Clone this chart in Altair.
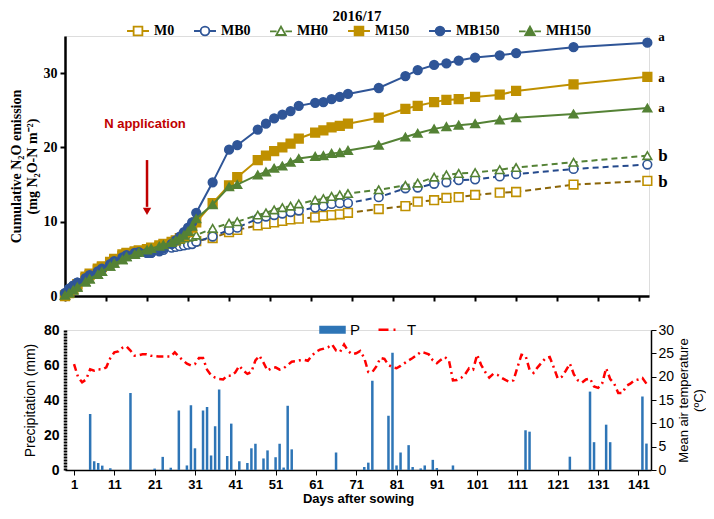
import altair as alt
import pandas as pd

# ---------------- data: cumulative N2O (top panel) ----------------
SERIES = ["M0", "MB0", "MH0", "M150", "MB150", "MH150"]
DAYS = [0, 1, 2, 3, 5, 6, 8, 9, 11, 12, 14, 15, 17, 18, 20, 21, 23, 24, 26, 27, 28, 29, 30, 31,
        32, 36, 40, 42, 47, 49, 51, 53, 55, 57, 61, 63, 65, 67, 69, 76.5, 83, 86, 90, 93, 96,
        100, 106, 110, 124, 142]
M0 = [0.0, 0.4, 0.9, 1.4, 2.4, 2.8, 3.5, 3.9, 4.5, 4.9, 5.4, 5.7, 5.9, 6.1, 6.3, 6.4, 6.6, 6.8, 7.0, 7.1, 7.2, 7.2, 7.3, 7.3,
      7.4, 7.8, 8.6, 8.9, 9.5, 9.7, 9.9, 10.1, 10.3, 10.4, 10.6, 10.8, 10.9, 11.0, 11.2, 11.7, 12.1, 12.7, 12.9, 13.2, 13.3,
      13.6, 13.9, 14.0, 15.0, 15.5]
MB0 = [0.4, 1.0, 1.4, 1.8, 2.4, 2.8, 3.3, 3.7, 4.3, 4.7, 5.2, 5.5, 5.8, 5.9, 5.8, 5.8, 6.0, 6.2, 6.5, 6.6, 6.7, 6.8, 6.9, 7.0,
       7.3, 8.0, 8.9, 9.2, 10.4, 10.7, 10.9, 11.1, 11.3, 11.5, 11.9, 12.1, 12.4, 12.5, 12.5, 13.3, 14.5, 14.6, 15.1, 15.3, 15.6,
       15.7, 16.1, 16.4, 17.1, 17.7]
MH0 = [0.1, 0.4, 0.8, 1.2, 1.9, 2.3, 2.9, 3.3, 4.0, 4.4, 4.9, 5.3, 5.6, 5.9, 6.2, 6.4, 6.7, 6.9, 7.2, 7.4, 7.6, 7.8, 7.9, 8.0,
       8.2, 9.1, 9.8, 10.0, 10.9, 11.2, 11.6, 11.9, 12.1, 12.4, 12.9, 13.1, 13.4, 13.6, 13.8, 14.3, 14.9, 15.2, 16.0, 16.3, 16.5,
       16.6, 17.0, 17.3, 18.0, 18.9]
M150 = [0.1, 0.5, 1.0, 1.6, 2.6, 3.0, 3.7, 4.0, 4.6, 5.0, 5.6, 5.8, 6.0, 6.1, 6.3, 6.5, 6.8, 7.0, 7.3, 7.5, 7.8, 8.1, 8.6, 9.2,
        9.9, 12.5, 14.9, 16.0, 18.3, 18.9, 19.5, 20.0, 20.5, 21.2, 22.0, 22.3, 22.7, 22.9, 23.2, 24.0, 25.2, 25.6, 26.1, 26.4, 26.5,
        26.8, 27.1, 27.6, 28.5, 29.5]
MB150 = [0.4, 1.0, 1.4, 1.8, 2.4, 2.8, 3.3, 3.7, 4.3, 4.7, 5.2, 5.5, 5.8, 5.9, 5.8, 5.8, 6.1, 6.4, 7.0, 7.5, 8.0, 8.6, 9.2, 9.9,
         11.2, 15.3, 19.7, 20.3, 22.4, 23.2, 23.9, 24.4, 24.9, 25.6, 26.0, 26.1, 26.5, 26.8, 27.2, 28.0, 29.6, 30.4, 31.1, 31.3, 31.7,
         32.1, 32.4, 32.7, 33.5, 34.1]
MH150 = [0.1, 0.4, 0.8, 1.2, 1.9, 2.3, 2.9, 3.3, 4.0, 4.4, 4.9, 5.3, 5.6, 5.9, 6.2, 6.4, 6.7, 6.9, 7.2, 7.5, 7.8, 8.2, 8.7, 9.4,
         10.4, 12.3, 14.7, 15.0, 16.3, 16.7, 17.2, 17.5, 18.0, 18.5, 18.8, 18.9, 19.2, 19.3, 19.6, 20.3, 21.4, 21.9, 22.5, 22.8, 23.0,
         23.2, 23.7, 24.0, 24.5, 25.3]
LETTERS = ["b", "b", "a", "a", "a"]
LETTER_Y = [15.4, 18.9, 29.4, 34.8, 25.3]
LETTER_FS = [17, 17, 13, 13, 13]

# ---------------- data: precipitation & temperature (bottom panel) ----------------
P_DAYS = [5, 6, 7, 8, 10, 15, 21, 23, 25, 27, 29, 30, 31, 33, 34, 35, 36, 37, 39, 40, 42, 44, 45, 46, 48, 49,
          51, 52, 53, 54, 55, 66, 73, 74, 75, 79, 80, 81, 82, 84, 85, 87, 88, 90, 91, 95, 113, 114, 124, 129,
          130, 133, 134, 142, 143]
P_MM = [32, 5, 4, 2.5, 1, 44, 0.8, 7.5, 1.3, 34, 2.6, 37, 12.4, 34, 36, 8.3, 25, 46, 8, 26.5, 5, 4, 12.4, 15, 6.6, 11.2,
        7.3, 15, 1.4, 36.7, 11.8, 10, 1.7, 4.2, 51, 31, 67, 2.6, 10, 14.2, 1.7, 0.9, 2.6, 5.8, 1.1, 2.6, 22.7, 21.9, 7.6, 44.8,
        15.9, 25.9, 15.9, 42, 15.1]
T_VALS = [22.7, 19.9, 18.8, 19.4, 21.6, 21.3, 21.6, 21.5, 22.0, 24.0, 25.2, 25.4, 26.2, 26.5, 25.6, 24.5, 24.6, 24.8, 24.8, 24.5,
          24.4, 24.3, 24.3, 24.3, 24.3, 25.2, 24.3, 23.5, 22.8, 22.4, 22.7, 24.0, 24.0, 21.5, 20.3, 19.8, 19.5, 19.4, 20.2, 20.2,
          20.9, 22.3, 21.3, 20.6, 21.0, 23.5, 24.5, 23.0, 21.3, 21.8, 22.0, 21.5, 21.8, 22.5, 23.2, 23.3, 23.5, 23.6, 23.4, 24.5,
          25.3, 25.8, 26.0, 26.3, 26.9, 25.6, 25.3, 26.9, 25.5, 24.8, 25.0, 25.5, 24.0, 21.0, 21.0, 22.2, 24.0, 23.8, 22.5, 22.0,
          21.8, 22.3, 22.9, 23.5, 24.0, 24.6, 25.3, 25.1, 24.8, 23.5, 22.9, 23.6, 24.2, 23.5, 19.2, 19.3, 19.7, 20.5, 21.8, 21.5,
          24.7, 22.5, 21.0, 19.8, 20.6, 20.4, 19.8, 19.3, 18.9, 19.2, 22.0, 24.7, 24.5, 21.5, 20.8, 22.0, 23.0, 24.0, 24.2, 22.0,
          19.6, 20.0, 21.3, 22.8, 20.5, 19.2, 18.7, 19.4, 19.6, 17.9, 17.6, 18.5, 21.8, 19.5, 18.5, 16.5, 16.5, 18.0, 18.5, 19.2,
          19.4, 19.7, 18.5]
T_DAYS = list(range(1, len(T_VALS) + 1))

# ---------------- styling ----------------
GOLD, BLUE, GREEN = "#BF9000", "#2F5597", "#548235"
STYLE = {
    "M0":    dict(line="#8B6508", mark=GOLD, fill="white", shape="square", dash=[6, 4]),
    "MB0":   dict(line="#24498C", mark=BLUE, fill="white", shape="circle", dash=[6, 4]),
    "MH0":   dict(line=GREEN, mark=GREEN, fill="white", shape="triangle-up", dash=[6, 4]),
    "M150":  dict(line=GOLD, mark=GOLD, fill=GOLD, shape="square", dash=None),
    "MB150": dict(line=BLUE, mark=BLUE, fill=BLUE, shape="circle", dash=None),
    "MH150": dict(line=GREEN, mark=GREEN, fill=GREEN, shape="triangle-up", dash=None),
}
SERIF = "Liberation Serif"
SANS = "Liberation Sans"

stub = "M-1.83,0H-0.73M0.73,0H1.83"
LEG_PATHS = [
    stub + "M-0.73,-0.73H0.73V0.73H-0.73Z",
    stub + "M0.73,0A0.73,0.73,0,1,1,-0.73,0A0.73,0.73,0,1,1,0.73,0Z",
    stub + "M0,-0.8L0.78,0.6H-0.78Z",
    stub + "M-0.73,-0.73H0.73V0.73H-0.73Z",
    stub + "M0.73,0A0.73,0.73,0,1,1,-0.73,0A0.73,0.73,0,1,1,0.73,0Z",
    stub + "M0,-0.8L0.78,0.6H-0.78Z",
]

TOP_W, BOT_W = 584, 586
TOP_H, BOT_H = 260, 140
PX_PER_DAY = TOP_W / 142.4
TOP_DOM = [0, 142.4]
BOT_DOM = [0, BOT_W / PX_PER_DAY]

rows = []
for s, vals in zip(SERIES, [M0, MB0, MH0, M150, MB150, MH150]):
    for d, v in zip(DAYS, vals):
        rows.append({"day": d, "value": v, "series": s})
top_df = pd.DataFrame(rows)

X_TOP = alt.X("day:Q", scale=alt.Scale(domain=TOP_DOM, nice=False, zero=False),
              axis=alt.Axis(values=list(range(0, 150, 10)), labels=False, title=None, grid=False,
                            domainColor="black", domainWidth=2.5, tickColor="black", tickWidth=2, tickSize=5))
Y_TOP = alt.Y("value:Q", scale=alt.Scale(domain=[0, 35], nice=False),
              axis=alt.Axis(values=[0, 10, 20, 30], grid=False,
                            title=["Cumulative  N\u2082O emission", "(mg N\u2082O-N m\u207b\u00b2)"],
                            titleFont=SERIF, titleFontSize=14, titleFontWeight="bold", titleLineHeight=16,
                            titlePadding=4, labelFont=SERIF, labelFontSize=14, labelFontWeight="bold",
                            labelColor="black", titleColor="black", labelPadding=3,
                            domainColor="black", domainWidth=2.5, tickColor="black", tickWidth=2, tickSize=5))

base = alt.Chart(top_df)
top_layers = []
for s in SERIES:
    st = STYLE[s]
    lkw = dict(color=st["line"], strokeWidth=2)
    if st["dash"]:
        lkw["strokeDash"] = st["dash"]
    ln = base.transform_filter(alt.datum.series == s).mark_line(**lkw).encode(x=X_TOP, y=Y_TOP)
    pt = base.transform_filter(alt.datum.series == s).mark_point(
        shape=st["shape"], size=75, filled=True, fill=st["fill"], stroke=st["mark"],
        strokeWidth=1.6, opacity=1).encode(x=X_TOP, y=Y_TOP)
    top_layers += [ln, pt]

letters_df = pd.DataFrame({"day": [DAYS[-1]] * len(LETTERS), "value": LETTER_Y,
                           "lab": LETTERS, "fs": LETTER_FS})
letters = alt.Chart(letters_df).mark_text(font=SERIF, fontWeight="bold", color="black",
                                          align="left", baseline="middle", dx=11).encode(
    x="day:Q", y="value:Q", text="lab:N", size=alt.Size("fs:Q", scale=None, legend=None))

ann_df = pd.DataFrame({"day": [19.5], "value": [23.2], "lab": ["N application"]})
ann = alt.Chart(ann_df).mark_text(font=SANS, fontWeight="bold", fontSize=13, color="#C00000").encode(
    x="day:Q", y="value:Q", text="lab:N")
arrow_df = pd.DataFrame({"day": [20], "y1": [18.3], "y2": [12.0], "tip": [11.4]})
arrow_line = alt.Chart(arrow_df).mark_rule(color="#C00000", strokeWidth=2.5).encode(
    x="day:Q", y="y1:Q", y2="y2:Q")
arrow_head = alt.Chart(arrow_df).mark_point(shape="triangle-down", filled=True, color="#C00000",
                                            size=70, opacity=1).encode(x="day:Q", y="tip:Q")

LEG_TOP = alt.Legend(title=None, orient="none", legendX=66, legendY=-12, direction="horizontal",
                     symbolSize=144, symbolStrokeWidth=1.8, labelFont=SERIF, labelFontSize=14,
                     labelFontWeight="bold", labelColor="black", labelOffset=9, columnPadding=15,
                     padding=0)
leg_top = alt.Chart(alt.Data(values=[])).mark_point(opacity=1, filled=True).encode(
    shape=alt.Shape("ktop:N", scale=alt.Scale(domain=SERIES, range=LEG_PATHS), legend=LEG_TOP),
    stroke=alt.Stroke("ktop:N", scale=alt.Scale(domain=SERIES, range=[STYLE[s]["mark"] for s in SERIES]), legend=LEG_TOP),
    fill=alt.Fill("ktop:N", scale=alt.Scale(domain=SERIES, range=[STYLE[s]["fill"] for s in SERIES]), legend=LEG_TOP),
)

top = alt.layer(*top_layers, letters, ann, arrow_line, arrow_head, leg_top).properties(
    width=TOP_W, height=TOP_H,
    title=alt.TitleParams("2016/17", font=SERIF, fontSize=15, fontWeight="bold", anchor="middle",
                          color="black", offset=0))

# ---------------- bottom panel ----------------
p_df = pd.DataFrame({"day": P_DAYS, "mm": P_MM})
t_df = pd.DataFrame({"day": T_DAYS, "T": T_VALS})

X_BOT = alt.X("day:Q", scale=alt.Scale(domain=BOT_DOM, nice=False, zero=False),
              axis=alt.Axis(values=list(range(1, 142, 10)), title="Days after sowing", grid=False,
                            titleFont=SANS, titleFontSize=13, titleFontWeight="bold", titleColor="black",
                            titlePadding=1, labelFont=SANS, labelFontSize=13, labelFontWeight="bold",
                            labelColor="black", labelPadding=3, domainColor="black", domainWidth=1.5,
                            tickColor="black", tickSize=5))
bars = alt.Chart(p_df).mark_bar(color="#2E75B6", size=2.5).encode(
    x=X_BOT,
    y=alt.Y("mm:Q", scale=alt.Scale(domain=[0, 80], nice=False),
            axis=alt.Axis(values=[0, 20, 40, 60, 80], title="Precipitation (mm)", grid=False,
                          titleFont=SANS, titleFontSize=14, titleFontWeight="normal", titleColor="black",
                          titlePadding=6, labelFont=SANS, labelFontSize=14, labelFontWeight="bold",
                          labelColor="black", labelPadding=6, ticks=False,
                          domainColor="black", domainWidth=3.5, domainDash=[2, 1])))
temp = alt.Chart(t_df).mark_line(color="#FF0000", strokeWidth=2.5, strokeDash=[7, 4, 2, 4]).encode(
    x="day:Q",
    y=alt.Y("T:Q", scale=alt.Scale(domain=[0, 30], nice=False),
            axis=alt.Axis(orient="right", values=[0, 5, 10, 15, 20, 25, 30], grid=False,
                          title=["Mean air temperature", "(\u00baC)"], titleAngle=270, titleBaseline="top",
                          titleAlign="center", titleX=26, titleY=BOT_H / 2,
                          titleFont=SANS, titleFontSize=13, titleFontWeight="normal", titleColor="black",
                          titleLineHeight=15, labelFont=SANS, labelFontSize=14,
                          labelColor="black", labelPadding=2, domainColor="black", domainWidth=1.5,
                          tickColor="black", tickSize=5)))
PT = ["P", "T"]
LEG_BOT = alt.Legend(title=None, orient="none", legendX=260, legendY=-8, direction="horizontal",
                     symbolSize=100, symbolStrokeWidth=2.5, labelFont=SANS, labelFontSize=15,
                     labelColor="black", labelOffset=10, columnPadding=12, padding=0)
leg_bot = alt.Chart(alt.Data(values=[])).mark_point(opacity=1, filled=True).encode(
    shape=alt.Shape("kbot:N", scale=alt.Scale(domain=PT, range=["M-2.4,-0.55H2.4V0.55H-2.4Z",
                                                                "M-2.2,0H-0.2M0.8,0H1.2"]), legend=LEG_BOT),
    stroke=alt.Stroke("kbot:N", scale=alt.Scale(domain=PT, range=["#2E75B6", "#FF0000"]), legend=LEG_BOT),
    fill=alt.Fill("kbot:N", scale=alt.Scale(domain=PT, range=["#2E75B6", "transparent"]), legend=LEG_BOT),
)
bottom = alt.layer(bars, temp, leg_bot).resolve_scale(y="independent").properties(width=BOT_W, height=BOT_H)

chart = alt.vconcat(top, bottom, spacing=16).resolve_scale(
    shape="independent", stroke="independent", fill="independent"
).resolve_legend(shape="independent", stroke="independent", fill="independent").properties(
    padding={"left": 0, "top": 0, "right": 0, "bottom": 0}
).configure_view(stroke=None).configure(background="white")

chart.save("out.html", embed_options={"renderer": "svg", "actions": False})
